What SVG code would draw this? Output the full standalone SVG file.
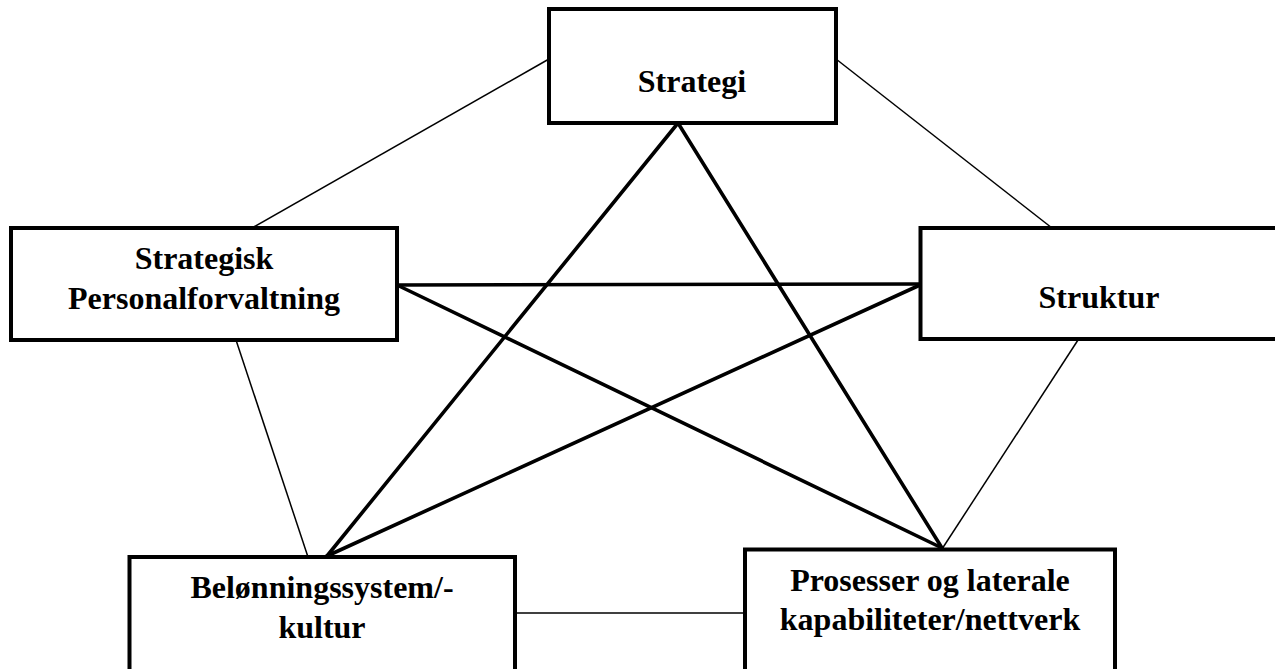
<svg xmlns="http://www.w3.org/2000/svg" width="1275" height="669" viewBox="0 0 1275 669">
<style>
.box{fill:#fff;stroke:#000;stroke-width:4}
.lbl{font-family:"Liberation Serif","Times New Roman",serif;font-weight:bold;font-size:32px;fill:#000;text-anchor:middle}
.thin{stroke:#000;stroke-width:1.5;fill:none}
.thick{stroke:#000;stroke-width:3.6;fill:none;stroke-linecap:round}
</style>
<rect width="1275" height="669" fill="#fff"/>
<g id="connectors">
<line class="thin" x1="549" y1="59" x2="252" y2="228"/>
<line class="thin" x1="836" y1="59" x2="1052" y2="228"/>
<line class="thin" x1="236" y1="340" x2="308" y2="557"/>
<line class="thin" x1="1078" y1="340" x2="942" y2="549"/>
<line class="thin" x1="515" y1="613" x2="745" y2="613"/>
<line class="thick" x1="678" y1="123" x2="327" y2="556"/>
<line class="thick" x1="678" y1="123" x2="942" y2="548"/>
<line class="thick" x1="397" y1="285" x2="920" y2="284"/>
<line class="thick" x1="397" y1="285" x2="942" y2="548"/>
<line class="thick" x1="920" y1="285" x2="327" y2="556"/>
</g>
<g id="strategi">
<rect class="box" x="549" y="9" width="287" height="114"/>
<text class="lbl" x="692" y="92">Strategi</text>
</g>
<g id="personal">
<rect class="box" x="11" y="228" width="386" height="112"/>
<text class="lbl" x="204" y="269">Strategisk</text>
<text class="lbl" x="204" y="309">Personalforvaltning</text>
</g>
<g id="struktur">
<rect class="box" x="920.5" y="228" width="360" height="111"/>
<text class="lbl" x="1099" y="308">Struktur</text>
</g>
<g id="belonning">
<rect class="box" x="129.5" y="557" width="385.5" height="120"/>
<text class="lbl" x="322" y="598">Belønningssystem/-</text>
<text class="lbl" x="322" y="638">kultur</text>
</g>
<g id="prosesser">
<rect class="box" x="745" y="549.5" width="370" height="125"/>
<text class="lbl" x="930" y="591">Prosesser og laterale</text>
<text class="lbl" x="930" y="630">kapabiliteter/nettverk</text>
</g>
</svg>
